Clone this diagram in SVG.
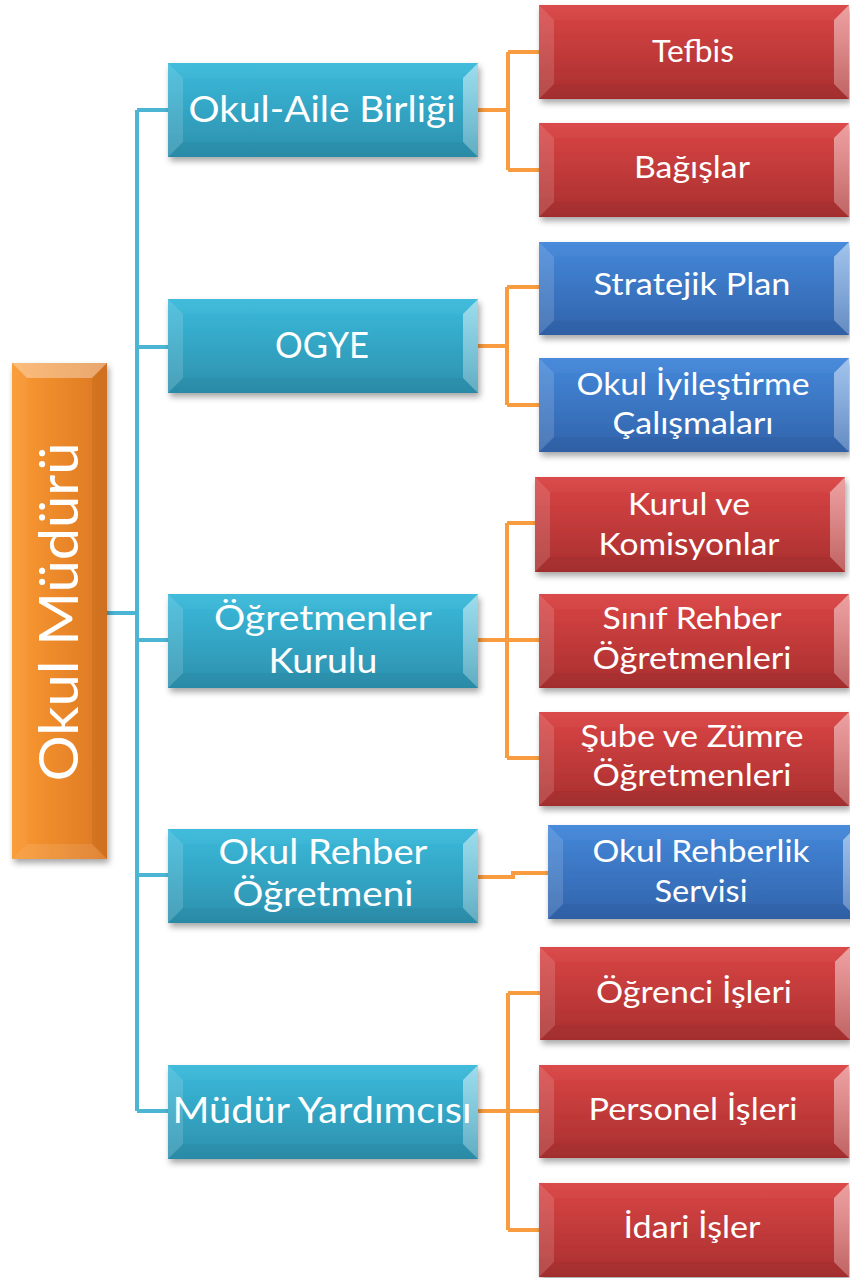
<svg xmlns="http://www.w3.org/2000/svg" xmlns:xlink="http://www.w3.org/1999/xlink" width="850" height="1278" viewBox="0 0 850 1278">
<defs>
<linearGradient id="gCy" x1="0" y1="0" x2="0" y2="1"><stop offset="0" stop-color="#3bbadb"/><stop offset="1" stop-color="#2c90ad"/></linearGradient>
<linearGradient id="gRd" x1="0" y1="0" x2="0" y2="1"><stop offset="0" stop-color="#da4545"/><stop offset="1" stop-color="#a92f2f"/></linearGradient>
<linearGradient id="gBl" x1="0" y1="0" x2="0" y2="1"><stop offset="0" stop-color="#4488da"/><stop offset="1" stop-color="#3163ab"/></linearGradient>
<linearGradient id="gOr" x1="0" y1="0" x2="1" y2="0"><stop offset="0" stop-color="#fa9a33"/><stop offset="1" stop-color="#dc7722"/></linearGradient>
<linearGradient id="gRb" x1="0" y1="0" x2="0" y2="1"><stop offset="0" stop-color="#fff" stop-opacity="0.5"/><stop offset="1" stop-color="#fff" stop-opacity="0.25"/></linearGradient>
<filter id="sh" x="-10%" y="-10%" width="125%" height="130%"><feDropShadow dx="2" dy="4" stdDeviation="3" flood-color="#000" flood-opacity="0.35"/></filter>
<symbol id="bev" viewBox="0 0 310 94" preserveAspectRatio="none">
<polygon points="0,0 310,0 295,15 15,15" fill="#fff" fill-opacity="0.03"/>
<polygon points="0,94 310,94 295,79 15,79" fill="#000" fill-opacity="0.04"/>
<polygon points="0,0 15,15 15,79 0,94" fill="#fff" fill-opacity="0.14"/>
<polygon points="310,0 310,94 295,79 295,15" fill="url(#gRb)"/>
</symbol>
<style>
.cy{fill:url(#gCy)}
.rd{fill:url(#gRd)}
.bl{fill:url(#gBl)}
.or{fill:url(#gOr)}
.box{filter:url(#sh)}
.t{font-family:Lato,"Open Sans","DejaVu Sans",sans-serif;fill:#fff;text-anchor:middle}
.t0{font-size:54px}
.t1{font-size:37px}
.t1b{font-size:34px}
.t2{font-size:31px}
.cc{fill:none;stroke:#4bb5d3;stroke-width:4}
.co{fill:none;stroke:#f99c3f;stroke-width:4}
</style>
</defs>
<rect width="850" height="1278" fill="#fff"/>

<g id="connectors">
<path class="cc" d="M107,613 H137 M137,110 V1111 M137,110 H168 M137,347 H168 M137,640 H168 M137,875 H168 M137,1111 H168"/>
<path class="co" d="M478,110 H508 M508,52 V170 M508,52 H539 M508,170 H539"/>
<path class="co" d="M478,346 H507 M507,287 V405 M507,287 H539 M507,405 H539"/>
<path class="co" d="M478,640 H507 M507,523 V758 M507,523 H535 M507,640 H539 M507,758 H539"/>
<path class="co" d="M478,877 H513 V873 H548"/>
<path class="co" d="M478,1111 H508 M508,993 V1230 M508,993 H540 M508,1111 H539 M508,1230 H539"/>
</g>

<g id="okul-muduru">
<rect class="box or" x="12" y="363" width="95" height="496"/>
<polygon points="12,363 107,363 92,378 27,378" fill="#fff" fill-opacity="0.35"/>
<polygon points="12,859 107,859 92,844 27,844" fill="#fff" fill-opacity="0.1"/>
<polygon points="12,363 27,378 27,844 12,859" fill="#fff" fill-opacity="0.04"/>
<polygon points="107,363 107,859 92,844 92,378" fill="#000" fill-opacity="0.06"/>
<text class="t t0" transform="translate(78,612) rotate(-90)" x="0" y="0" textLength="339" lengthAdjust="spacingAndGlyphs">Okul Müdürü</text>
</g>

<g id="okul-aile-birligi">
<rect class="box cy" x="168" y="63" width="310" height="94"/>
<use href="#bev" x="168" y="63" width="310" height="94"/>
<text class="t t1" x="322" y="122" textLength="267" lengthAdjust="spacingAndGlyphs">Okul-Aile Birliği</text>
</g>
<g id="ogye">
<rect class="box cy" x="168" y="299" width="310" height="94"/>
<use href="#bev" x="168" y="299" width="310" height="94"/>
<text class="t t1" x="322" y="358" textLength="94" lengthAdjust="spacingAndGlyphs">OGYE</text>
</g>
<g id="ogretmenler-kurulu">
<rect class="box cy" x="168" y="594" width="310" height="94"/>
<use href="#bev" x="168" y="594" width="310" height="94"/>
<text class="t t1b" x="323" y="630" textLength="218" lengthAdjust="spacingAndGlyphs">Öğretmenler</text>
<text class="t t1b" x="323" y="673" textLength="109" lengthAdjust="spacingAndGlyphs">Kurulu</text>
</g>
<g id="okul-rehber-ogretmeni">
<rect class="box cy" x="168" y="829" width="310" height="94"/>
<use href="#bev" x="168" y="829" width="310" height="94"/>
<text class="t t1b" x="323" y="864" textLength="209" lengthAdjust="spacingAndGlyphs">Okul Rehber</text>
<text class="t t1b" x="323" y="906" textLength="181" lengthAdjust="spacingAndGlyphs">Öğretmeni</text>
</g>
<g id="mudur-yardimcisi">
<rect class="box cy" x="168" y="1065" width="310" height="94"/>
<use href="#bev" x="168" y="1065" width="310" height="94"/>
<text class="t t1" x="322" y="1123" textLength="299" lengthAdjust="spacingAndGlyphs">Müdür Yardımcısı</text>
</g>

<g id="tefbis">
<rect class="box rd" x="539" y="5" width="310" height="94"/>
<use href="#bev" x="539" y="5" width="310" height="94"/>
<text class="t t2" x="693" y="62" textLength="82" lengthAdjust="spacingAndGlyphs">Tefbis</text>
</g>
<g id="bagislar">
<rect class="box rd" x="539" y="123" width="310" height="94"/>
<use href="#bev" x="539" y="123" width="310" height="94"/>
<text class="t t2" x="692" y="178" textLength="116" lengthAdjust="spacingAndGlyphs">Bağışlar</text>
</g>
<g id="stratejik-plan">
<rect class="box bl" x="539" y="242" width="310" height="93"/>
<use href="#bev" x="539" y="242" width="310" height="93"/>
<text class="t t2" x="692" y="295" textLength="197" lengthAdjust="spacingAndGlyphs">Stratejik Plan</text>
</g>
<g id="okul-iyilestirme">
<rect class="box bl" x="539" y="358" width="310" height="94"/>
<use href="#bev" x="539" y="358" width="310" height="94"/>
<text class="t t2" x="693" y="395" textLength="233" lengthAdjust="spacingAndGlyphs">Okul İyileştirme</text>
<text class="t t2" x="693" y="434" textLength="161" lengthAdjust="spacingAndGlyphs">Çalışmaları</text>
</g>
<g id="kurul-ve-komisyonlar">
<rect class="box rd" x="535" y="477" width="310" height="95"/>
<use href="#bev" x="535" y="477" width="310" height="95"/>
<text class="t t2" x="689" y="515" textLength="122" lengthAdjust="spacingAndGlyphs">Kurul ve</text>
<text class="t t2" x="689" y="555" textLength="181" lengthAdjust="spacingAndGlyphs">Komisyonlar</text>
</g>
<g id="sinif-rehber">
<rect class="box rd" x="539" y="594" width="310" height="94"/>
<use href="#bev" x="539" y="594" width="310" height="94"/>
<text class="t t2" x="692" y="629" textLength="179" lengthAdjust="spacingAndGlyphs">Sınıf Rehber</text>
<text class="t t2" x="692" y="669" textLength="199" lengthAdjust="spacingAndGlyphs">Öğretmenleri</text>
</g>
<g id="sube-zumre">
<rect class="box rd" x="539" y="712" width="310" height="94"/>
<use href="#bev" x="539" y="712" width="310" height="94"/>
<text class="t t2" x="692" y="747" textLength="223" lengthAdjust="spacingAndGlyphs">Şube ve Zümre</text>
<text class="t t2" x="692" y="786" textLength="199" lengthAdjust="spacingAndGlyphs">Öğretmenleri</text>
</g>
<g id="okul-rehberlik-servisi">
<rect class="box bl" x="548" y="825" width="310" height="94"/>
<use href="#bev" x="548" y="825" width="310" height="94"/>
<text class="t t2" x="701" y="862" textLength="217" lengthAdjust="spacingAndGlyphs">Okul Rehberlik</text>
<text class="t t2" x="701" y="902" textLength="93" lengthAdjust="spacingAndGlyphs">Servisi</text>
</g>
<g id="ogrenci-isleri">
<rect class="box rd" x="540" y="947" width="310" height="93"/>
<use href="#bev" x="540" y="947" width="310" height="93"/>
<text class="t t2" x="694" y="1003" textLength="196" lengthAdjust="spacingAndGlyphs">Öğrenci İşleri</text>
</g>
<g id="personel-isleri">
<rect class="box rd" x="539" y="1065" width="310" height="93"/>
<use href="#bev" x="539" y="1065" width="310" height="93"/>
<text class="t t2" x="693" y="1120" textLength="209" lengthAdjust="spacingAndGlyphs">Personel İşleri</text>
</g>
<g id="idari-isler">
<rect class="box rd" x="539" y="1183" width="310" height="94"/>
<use href="#bev" x="539" y="1183" width="310" height="94"/>
<text class="t t2" x="692" y="1238" textLength="137" lengthAdjust="spacingAndGlyphs">İdari İşler</text>
</g>
</svg>
